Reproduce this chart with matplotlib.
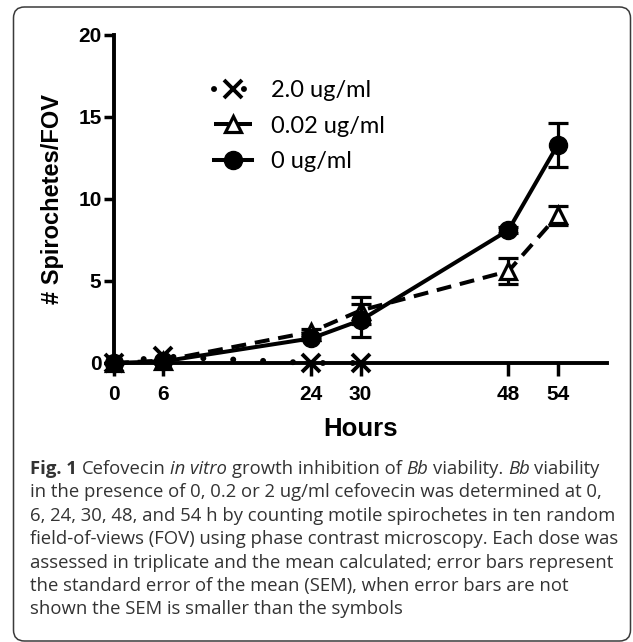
import matplotlib
matplotlib.use("Agg")
import matplotlib.pyplot as plt
from matplotlib.patches import FancyBboxPatch
from matplotlib.lines import Line2D
from matplotlib.transforms import IdentityTransform

# ---- data ----
hours = [0, 6, 24, 30, 48, 54]
dose0_mean = [0, 0.1, 1.5, 2.6, 8.1, 13.3]
dose0_sem = [0, 0, 0.1, 1.0, 0.2, 1.35]
dose002_mean = [0, 0.15, 1.9, 3.2, 5.6, 9.0]
dose002_sem = [0, 0, 0.2, 0.8, 0.8, 0.6]
hours_2 = [0, 6, 24, 30]
dose2_mean = [0, 0.4, 0, 0]

labels = ["2.0 ug/ml", "0.02 ug/ml", "0 ug/ml"]
xticks = [0, 6, 24, 30, 48, 54]
yticks = [0, 5, 10, 15, 20]

caption_lines = [
    [("Fig. 1", "bold"), ("Cefovecin", "normal"), ("in vitro", "italic"),
     ("growth inhibition of", "normal"), ("Bb", "italic"), ("viability.", "normal"),
     ("Bb", "italic"), ("viability", "normal")],
    [("in the presence of 0, 0.2 or 2 ug/ml cefovecin was determined at 0,", "normal")],
    [("6, 24, 30, 48, and 54 h by counting motile spirochetes in ten random", "normal")],
    [("field-of-views (FOV) using phase contrast microscopy. Each dose was", "normal")],
    [("assessed in triplicate and the mean calculated; error bars represent", "normal")],
    [("the standard error of the mean (SEM), when error bars are not", "normal")],
    [("shown the SEM is smaller than the symbols", "normal")],
]

W, H = 633, 642
fig = plt.figure(figsize=(W / 100, H / 100), dpi=100)
fig.patch.set_facecolor("white")

# rounded frame
frame = FancyBboxPatch((13.5, H - 641), 617, 634,
                       boxstyle="round,pad=0,rounding_size=11",
                       transform=IdentityTransform(), fill=False,
                       edgecolor="#3a3a3a", linewidth=1.1)
fig.patches.append(frame)

ax = fig.add_axes([114 / W, 1 - 363 / H, 493 / W, 328 / H])
ax.set_xlim(0, 60)
ax.set_ylim(0, 20)
for s in ["top", "right"]:
    ax.spines[s].set_visible(False)
for s in ["left", "bottom"]:
    ax.spines[s].set_linewidth(2.8)
    ax.spines[s].set_color("black")
ax.spines["bottom"].set_zorder(1)

style2 = dict(color="black", linewidth=4.3, linestyle=(0, (0.01, 5.0)),
              dash_capstyle="round", marker="x", markersize=12.5,
              markeredgewidth=2.8)
style002 = dict(color="black", linewidth=2.9, linestyle=(0, (3.7, 2.2)),
                marker="^", markersize=12, markerfacecolor="white",
                markeredgecolor="black", markeredgewidth=2.3)
style0 = dict(color="black", linewidth=2.9, linestyle="-", marker="o",
              markersize=13, markerfacecolor="black", markeredgecolor="black")

# 2.0 ug/ml: dotted line with X markers
ax.plot(hours_2, dose2_mean, clip_on=False, zorder=3, **style2)

# 0.02 ug/ml: dashed line with open triangles
e1 = ax.errorbar(hours, dose002_mean, yerr=dose002_sem,
                 ecolor="black", elinewidth=2.3, capsize=7, capthick=2.3,
                 clip_on=False, zorder=4, **style002)

# 0 ug/ml: solid line with filled circles
e0 = ax.errorbar(hours, dose0_mean, yerr=dose0_sem,
                 ecolor="black", elinewidth=2.3, capsize=7, capthick=2.3,
                 clip_on=False, zorder=5, **style0)
for art in [e0, e1]:
    for c in art.get_children():
        c.set_clip_on(False)

ax.set_xticks(xticks)
ax.set_yticks(yticks)
ax.set_xticklabels([str(v) for v in xticks])
ax.set_yticklabels([str(v) for v in yticks])
ax.tick_params(axis="x", length=9, width=2.5, pad=7, labelsize=15)
ax.tick_params(axis="y", length=7, width=2.5, pad=2, labelsize=15)
for t in ax.get_xticklabels() + ax.get_yticklabels():
    t.set_fontfamily("Liberation Sans")
    t.set_fontweight("bold")

ax.set_xlabel("Hours", fontsize=18.5, fontweight="bold", family="Liberation Sans",
              labelpad=9)
ax.set_ylabel("# Spirochetes/FOV", fontsize=17, fontweight="bold",
              family="Liberation Sans", labelpad=10)

handles = [Line2D([], [], **style2), Line2D([], [], **style002),
           Line2D([], [], **style0)]
leg = ax.legend(handles=handles, labels=labels, loc="upper left",
                bbox_to_anchor=(214 / W, 1 - 80 / H), bbox_transform=fig.transFigure,
                frameon=False, prop={"family": "Lato", "size": 17},
                handlelength=1.6, handletextpad=0.8, labelspacing=0.62,
                borderpad=0, borderaxespad=0)

# caption
fig.canvas.draw()
renderer = fig.canvas.get_renderer()
cap_font = "Open Sans"
cap_size = 13.3
cap_color = "#333333"


def text_width(s, weight="normal", style="normal"):
    t = fig.text(0, 0, s, fontsize=cap_size, family=cap_font,
                 fontweight=weight, fontstyle=style)
    w = t.get_window_extent(renderer).width
    t.remove()
    return w


space_w = text_width("a a") - text_width("aa")
y0 = 469
dy = 23.4
for i, segs in enumerate(caption_lines):
    x = 30
    y = H - (y0 + i * dy)
    for s, kind in segs:
        weight = "bold" if kind == "bold" else "normal"
        style = "italic" if kind == "italic" else "normal"
        fig.text(x, y, s, transform=IdentityTransform(), fontsize=cap_size,
                 family=cap_font, fontweight=weight, fontstyle=style,
                 color=cap_color, va="center", ha="left")
        x += text_width(s, weight, style) + space_w

fig.savefig("out.png", dpi=100, facecolor="white")
